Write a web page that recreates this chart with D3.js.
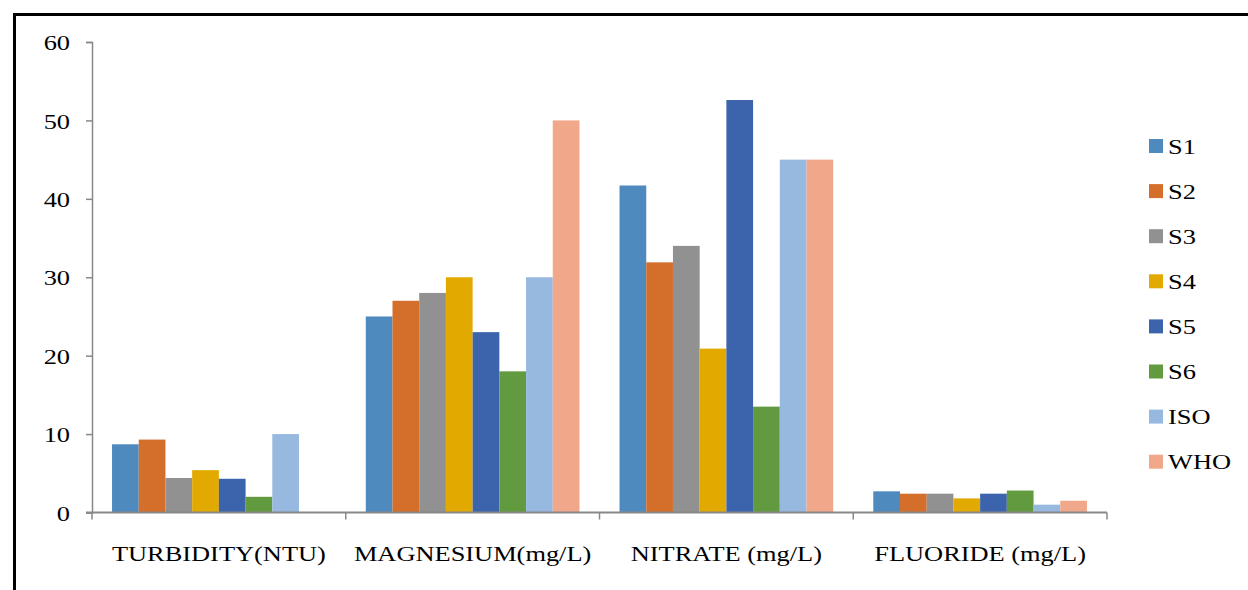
<!DOCTYPE html>
<html>
<head>
<meta charset="utf-8">
<script src="https://cdn.jsdelivr.net/npm/d3@7"></script>
<style>
  body { margin: 0; background: #fff; }
  #chart { width: 1248px; height: 590px; }
  .genText { font-family: "Liberation Serif", "Times New Roman", serif; fill: #000; }
</style>
</head>
<body>
<div id="chart"></div>
<script>
// categories and series
const categories = ["TURBIDITY(NTU)", "MAGNESIUM(mg/L)", "NITRATE (mg/L)", "FLUORIDE (mg/L)"];
const seriesNames = ["S1", "S2", "S3", "S4", "S5", "S6", "ISO", "WHO"];
const seriesColors = ["#4f8abe", "#d46e2b", "#919191", "#e2aa00", "#3c64ac", "#629a3f", "#98b9df", "#f1a78a"];

// values per series, in category order
const S1 = [8.7, 25, 41.7, 2.7];
const S2 = [9.3, 27, 31.9, 2.4];
const S3 = [4.4, 28, 34, 2.4];
const S4 = [5.4, 30, 20.9, 1.8];
const S5 = [4.3, 23, 52.6, 2.4];
const S6 = [2, 18, 13.5, 2.8];
const ISO = [10, 30, 45, 1];
const WHO = [0, 50, 45, 1.5];
const seriesValues = [S1, S2, S3, S4, S5, S6, ISO, WHO];

const yTicks = [0, 10, 20, 30, 40, 50, 60];

let W = 1248, H = 590;
let margin = {top: 42, left: 92};
let plotW = 1107 - 92;
let plotH = 512.5 - 42;

// the original picture is stretched sideways, so text is widened a bit
let stretch = 1.2;
let fontSize = "22px";

let svg = d3.select("#chart").append("svg")
    .attr("width", W)
    .attr("height", H);

// outer frame (runs off the right and bottom of the picture)
svg.append("rect")
    .attr("x", 14.5)
    .attr("y", 14.5)
    .attr("width", W + 20)
    .attr("height", H + 20)
    .attr("fill", "none")
    .attr("stroke", "#000")
    .attr("stroke-width", 3);

let g = svg.append("g")
    .attr("transform", "translate(" + margin.left + "," + margin.top + ")");

// scales
let x0 = d3.scaleBand()
    .domain(categories)
    .range([0, plotW])
    .paddingInner(0)
    .paddingOuter(0);

let x1 = d3.scaleBand()
    .domain(seriesNames)
    .range([0, x0.bandwidth()])
    .paddingOuter(0.75);

let y = d3.scaleLinear()
    .domain([0, 60])
    .range([plotH, 0]);

// bars
let groups = g.selectAll(".cat")
    .data(categories)
    .enter().append("g")
    .attr("class", "cat")
    .attr("transform", d => "translate(" + x0(d) + ",0)");

groups.selectAll("rect")
    .data((c, ci) => seriesNames.map((s, si) => ({s: s, i: si, v: seriesValues[si][ci]})))
    .enter().append("rect")
    .attr("x", d => x1(d.s))
    .attr("y", d => y(d.v))
    .attr("width", x1.bandwidth())
    .attr("height", d => plotH - y(d.v))
    .attr("fill", d => seriesColors[d.i]);

// y axis
let yAxis = d3.axisLeft(y)
    .tickValues(yTicks)
    .tickSize(6)
    .tickSizeOuter(6)
    .tickPadding(22);

let yg = g.append("g")
    .attr("class", "y-axis")
    .call(yAxis);
yg.select(".domain").attr("stroke", "#888").attr("stroke-width", 1.5);
yg.selectAll(".tick line").attr("stroke", "#888").attr("stroke-width", 1.5);
yg.selectAll("text")
    .attr("class", "genText")
    .attr("font-size", fontSize)
    .attr("x", -22 / stretch)
    .attr("dy", "0.35em")
    .attr("transform", "scale(" + stretch + ",1)");

// x axis: ticks sit on category boundaries
let xg = g.append("g")
    .attr("class", "x-axis")
    .attr("transform", "translate(0," + plotH + ")");

xg.append("line")
    .attr("x1", -6)
    .attr("x2", plotW)
    .attr("stroke", "#888")
    .attr("stroke-width", 2);

let bounds = categories.map(c => x0(c)).concat([plotW]);
xg.selectAll(".xtick")
    .data(bounds)
    .enter().append("line")
    .attr("class", "xtick")
    .attr("x1", d => d)
    .attr("x2", d => d)
    .attr("y1", 0)
    .attr("y2", 7)
    .attr("stroke", "#888")
    .attr("stroke-width", 1.5);

xg.selectAll(".xlabel")
    .data(categories)
    .enter().append("text")
    .attr("class", "xlabel genText")
    .attr("transform", d => "translate(" + (x0(d) + x0.bandwidth() / 2) + ",48) scale(" + stretch + ",1)")
    .attr("text-anchor", "middle")
    .attr("font-size", fontSize)
    .text(d => d);

// legend
let legend = svg.append("g")
    .attr("transform", "translate(1149,146)");

let items = legend.selectAll(".item")
    .data(seriesNames)
    .enter().append("g")
    .attr("class", "item")
    .attr("transform", (d, i) => "translate(0," + (i * 45.1) + ")");

items.append("rect")
    .attr("x", 0)
    .attr("y", -7)
    .attr("width", 14)
    .attr("height", 14)
    .attr("fill", (d, i) => seriesColors[i]);

items.append("text")
    .attr("class", "genText")
    .attr("transform", "translate(19,0) scale(" + stretch + ",1)")
    .attr("dy", "0.35em")
    .attr("font-size", fontSize)
    .text(d => d);
</script>
</body>
</html>
